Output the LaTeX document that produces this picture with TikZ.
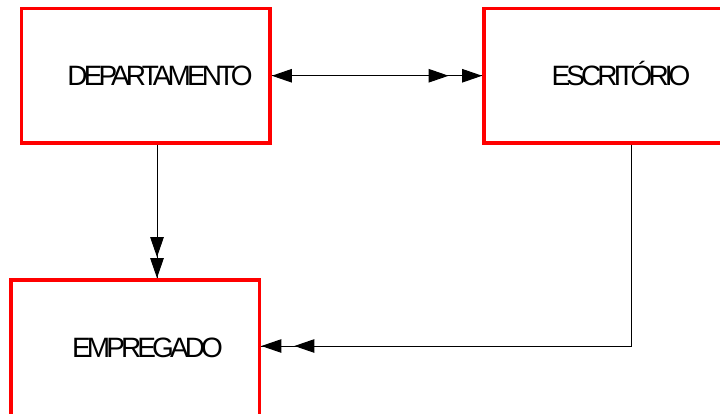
\documentclass[tikz,border=0pt]{standalone}
\usepackage{fontspec}
\setmainfont{Liberation Sans}
\newfontfamily\boxfont[LetterSpace=-14]{Liberation Sans}
\usetikzlibrary{arrows.meta}
\tikzset{
  tri/.tip={Triangle[length=20pt,width=13.5pt]},
  box/.style={draw=red, line width=3.8pt, rectangle, inner sep=0pt},
  lbl/.style={font=\boxfont\fontsize{28pt}{30pt}\selectfont, text=black, inner sep=0pt, anchor=base},
  conn/.style={draw=black, line width=1pt},
}
\begin{document}
\begin{tikzpicture}[x=1pt,y=-1pt]
\useasboundingbox (0,0) rectangle (720,413);
\fill[white] (0,0) rectangle (720,413);
\clip (0,0) rectangle (720,413);
% boxes
\node[box, minimum width=248.5pt, minimum height=134.5pt] (dep) at (145.75,75.75) {};
\node[box, minimum width=274pt, minimum height=134.5pt] (esc) at (621,75.75) {};
\node[box, minimum width=248.5pt, minimum height=136pt] (emp) at (135.25,348) {};
% labels
\node[lbl] (depT) at (160,85.5) {DEPARTAMENTO};
\node[lbl] (escT) at (621,85.5) {ESCRITÓRIO};
\node[lbl] (empT) at (147.5,357) {EMPREGADO};
% connectors
\draw[conn] (dep.east) -- (esc.west);
\draw[conn, {tri}-{tri[sep=13.5pt]tri}] (dep.east) -- (esc.west);
\draw[conn] ([xshift=11.25pt]dep.south) -- ([xshift=11.25pt]dep.south |- emp.north);
\draw[conn, -{tri[sep=1pt]tri}] ([xshift=11.25pt]dep.south) -- ([xshift=11.25pt]dep.south |- emp.north);
\draw[conn] ([xshift=10pt]esc.south) |- ([yshift=2pt]emp.east);
\draw[conn, -{tri[sep=13pt]tri}] ([xshift=10pt]esc.south) |- ([yshift=2pt]emp.east);
\end{tikzpicture}
\end{document}
